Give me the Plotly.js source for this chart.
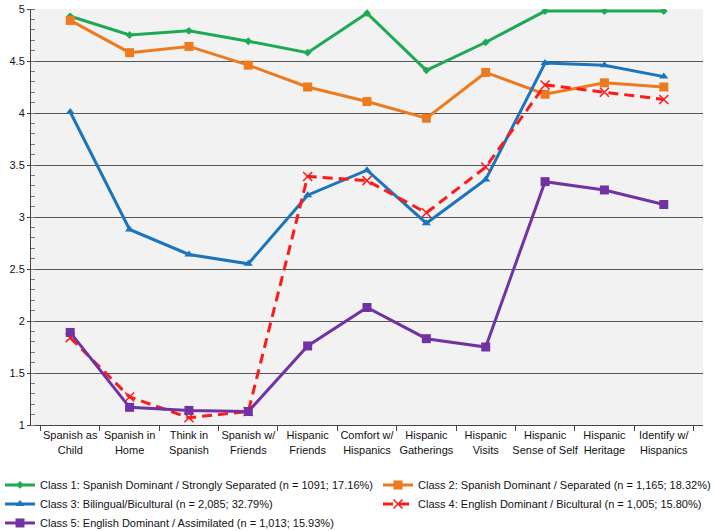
<!DOCTYPE html>
<html>
<head>
<meta charset="utf-8">
<script src="https://cdn.plot.ly/plotly-3.0.1.min.js"></script>
<style>
  html, body { margin: 0; padding: 0; background: #fff; }
  #plot { width: 714px; height: 531px; }
</style>
</head>
<body>
<div id="plot"></div>
<script>
    // Categories (x axis)
    var categories = [
        'Spanish as<br>Child', 'Spanish in<br>Home', 'Think in<br>Spanish', 'Spanish w/<br>Friends',
        'Hispanic<br>Friends', 'Comfort w/<br>Hispanics', 'Hispanic<br>Gatherings', 'Hispanic<br>Visits',
        'Hispanic<br>Sense of Self', 'Hispanic<br>Heritage', 'Identify w/<br>Hispanics'
    ];

    // Series values
    var class1 = [4.93, 4.75, 4.79, 4.69, 4.58, 4.96, 4.41, 4.68, 4.98, 4.98, 4.98];
    var class2 = [4.89, 4.58, 4.64, 4.46, 4.25, 4.11, 3.95, 4.39, 4.18, 4.29, 4.25];
    var class3 = [4.01, 2.88, 2.64, 2.55, 3.21, 3.45, 2.94, 3.36, 4.48, 4.46, 4.35];
    var class4 = [1.84, 1.27, 1.07, 1.13, 3.39, 3.35, 3.04, 3.48, 4.27, 4.20, 4.13];
    var class5 = [1.89, 1.17, 1.14, 1.13, 1.76, 2.13, 1.83, 1.75, 3.34, 3.26, 3.12];

    var names = [
        'Class 1: Spanish Dominant / Strongly Separated (n = 1091; 17.16%)',
        'Class 2: Spanish Dominant / Separated (n = 1,165; 18.32%)',
        'Class 3: Bilingual/Bicultural (n = 2,085; 32.79%)',
        'Class 4: English Dominant / Bicultural (n = 1,005; 15.80%)',
        'Class 5: English Dominant / Assimilated (n = 1,013; 15.93%)'
    ];

    function series(name, y, color, symbol, size, legend, dash) {
        return {
            type: 'scatter', mode: 'lines+markers', name: name,
            x: categories, y: y, legend: legend,
            line: { color: color, width: 3, dash: dash || 'solid' },
            marker: symbol === 'x-thin'
                ? { symbol: 'x-thin', size: size, line: { color: color, width: 1.5 } }
                : { symbol: symbol, size: size, color: color }
        };
    }

    // left legend column: classes 1, 3, 5; right column: classes 2, 4
    var data = [
        series(names[0], class1, '#1eaa55', 'diamond', 6, 'legend'),
        series(names[1], class2, '#ee7a1e', 'square', 9, 'legend2'),
        series(names[2], class3, '#1b75bc', 'triangle-up', 8, 'legend'),
        series(names[3], class4, '#ff1a1a', 'x-thin', 9, 'legend2', '10px,6px'),
        series(names[4], class5, '#7133a3', 'square', 9, 'legend')
    ];

    // horizontal legends with a wide entry width, so every entry wraps to its own row
    var legendBase = {
        orientation: 'h',
        xref: 'container', yref: 'container',
        y: 0.114, yanchor: 'top', xanchor: 'left',
        entrywidth: 370, entrywidthmode: 'pixels',
        font: { size: 11 },
        bgcolor: 'rgba(0,0,0,0)'
    };

    var layout = {
        width: 714, height: 531,
        margin: { l: 31, r: 11, t: 9, b: 106 },
        paper_bgcolor: '#ffffff',
        plot_bgcolor: '#f2f2f2',
        font: { family: 'Liberation Sans, Arial, sans-serif', size: 11, color: '#111' },
        showlegend: true,
        legend: Object.assign({}, legendBase, { x: 0 }),
        legend2: Object.assign({}, legendBase, { x: 378 / 714 }),
        xaxis: {
            type: 'category',
            tickson: 'boundaries',
            tickangle: 0,
            ticks: 'outside', ticklen: 5, tickcolor: '#444',
            showline: true, linecolor: '#444', linewidth: 1,
            showgrid: false,
            tickfont: { size: 11 },
            fixedrange: true
        },
        yaxis: {
            range: [1, 5], dtick: 0.5,
            ticks: 'outside', ticklen: 3, tickcolor: '#444',
            showline: true, linecolor: '#444', linewidth: 1,
            showgrid: true, gridcolor: '#555', gridwidth: 1,
            zeroline: false,
            tickfont: { size: 11 },
            minor: { dtick: 0.1, ticks: 'inside', ticklen: 4, tickcolor: '#777', showgrid: false },
            fixedrange: true
        }
    };

    Plotly.newPlot('plot', data, layout, { displayModeBar: false, staticPlot: true });
</script>
</body>
</html>
